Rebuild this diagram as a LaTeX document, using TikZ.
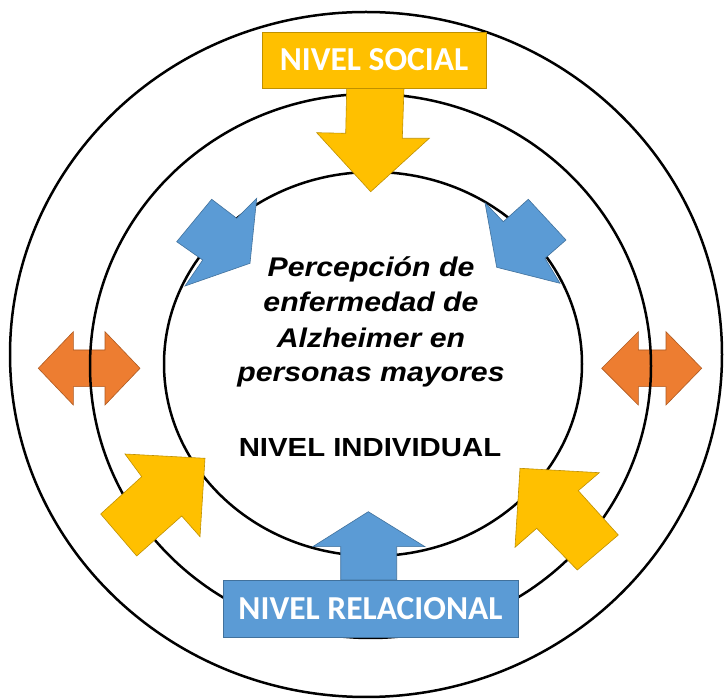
\documentclass[tikz,border=0pt]{standalone}
\usepackage{fontspec}
\setmainfont{Liberation Sans}
\newfontfamily\cfont[FakeStretch=1.12]{Liberation Sans}
\newfontfamily\bfont{Carlito}
\definecolor{ygold}{HTML}{FFC000}
\definecolor{ygoldd}{HTML}{BF9000}
\definecolor{oblue}{HTML}{5B9BD5}
\definecolor{obluedd}{HTML}{41719C}
\definecolor{oorange}{HTML}{ED7D31}
\definecolor{oorangedd}{HTML}{AE5A21}
\begin{document}
\begin{tikzpicture}[x=1pt,y=-1pt,
  ring/.style={draw=black,line width=2.5pt},
  yarrow/.style={fill=ygold,draw=ygoldd,line width=0.6pt,line join=miter},
  barrow/.style={fill=oblue,draw=obluedd,line width=0.6pt,line join=miter},
  oarrow/.style={fill=oorange,draw=oorangedd,line width=0.6pt,line join=miter},
  levelbox/.style={minimum width=#1,inner sep=0pt,minimum height=56pt,line width=0.8pt,
     text=white,font=\bfont\fontsize{33.5}{36}\selectfont\bfseries},
  ctext/.style={anchor=base,font=\cfont\fontsize{27}{35}\selectfont\bfseries\itshape},
  itext/.style={anchor=base,font=\cfont\fontsize{26.2}{32}\selectfont\bfseries}]
\useasboundingbox (0,0) rectangle (724,700);
\fill[white] (0,0) rectangle (724,700);
% orange double arrows (behind rings)
\draw[oarrow] (38.3,368.3) -- (73.3,331.7) -- (73.3,350) -- (105,350) -- (105,331.7) -- (140,368.3) -- (105,405) -- (105,386.7) -- (73.3,386.7) -- (73.3,405) -- cycle;
\draw[oarrow] (601.7,368.3) -- (638.3,331.7) -- (638.3,350) -- (666,350) -- (666,331.7) -- (701.7,368.3) -- (666,405) -- (666,386.7) -- (638.3,386.7) -- (638.3,405) -- cycle;
% rings
\draw[ring] (366,354.5) ellipse [x radius=356, y radius=342.5];
\draw[ring] (370.5,366) ellipse [x radius=280.5, y radius=272];
\draw[ring] (373,364) ellipse [x radius=209, y radius=192];
% yellow arrows
\draw[yarrow] (346.7,88) -- (345.7,133.3) -- (316.7,132.7) -- (370.7,191.7) -- (429.3,138.3) -- (402.3,138.3) -- (404,88) -- cycle;
\draw[yarrow] (205,458.3) -- (200,536.7) -- (181.7,516) -- (136.7,556) -- (100.7,514) -- (141.7,476.7) -- (125,454) -- cycle;
\draw[yarrow] (520,468.3) -- (599.3,472.7) -- (578.3,490.7) -- (618.3,535) -- (577.3,570) -- (536.7,528.3) -- (515,547.3) -- cycle;
% blue arrows
\draw[barrow] (211.7,199.3) -- (236.7,218.3) -- (256.7,198.3) -- (250,263.3) -- (185,286) -- (202.7,260) -- (176.7,241.7) -- cycle;
\draw[barrow] (485,202.7) -- (503.3,221.7) -- (528.3,199.3) -- (566,240) -- (545,258.3) -- (560,283.3) -- (496.7,267.3) -- cycle;
\draw[barrow] (340.7,580) -- (340.7,546.7) -- (312.7,546.7) -- (368.3,511.7) -- (425,546.7) -- (396.7,546.7) -- (396.7,580) -- cycle;
% level boxes
\node[levelbox=224pt,fill=ygold,draw=ygoldd] (social) at (374,60) {NIVEL SOCIAL};
\node[levelbox=295pt,minimum height=57pt,fill=oblue,draw=obluedd] (relacional) at (370.5,608.5) {NIVEL RELACIONAL};
% central text
\node[ctext] (l1) at (371,277) {Percepción de};
\node[ctext] (l2) at (371,312) {enfermedad de};
\node[ctext] (l3) at (371,348) {Alzheimer en};
\node[ctext] (l4) at (371,382) {personas mayores};
\node[itext] (indiv) at (370,457) {NIVEL INDIVIDUAL};
\end{tikzpicture}
\end{document}
